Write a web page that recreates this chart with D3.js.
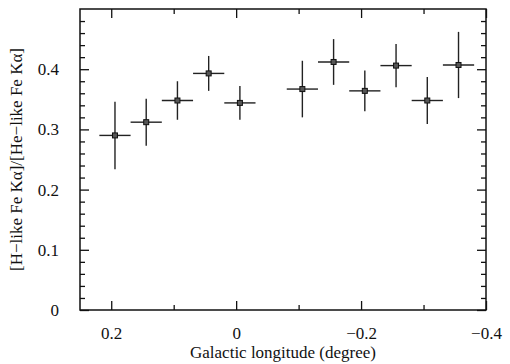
<!DOCTYPE html>
<html>
<head>
<meta charset="utf-8">
<script src="https://cdn.jsdelivr.net/npm/d3@7"></script>
</head>
<body style="margin:0;background:#fff">
<svg id="plot" width="510" height="364"></svg>
<script>
// Galactic longitude of each bin (degree)
const longitude = [0.194, 0.144, 0.094, 0.044, -0.006, -0.106, -0.156, -0.206, -0.256, -0.306, -0.356];
// half width of each longitude bin
const lonHalfWidth = [0.025, 0.025, 0.025, 0.025, 0.025, 0.025, 0.025, 0.025, 0.025, 0.025, 0.025];
// [H-like Fe Ka]/[He-like Fe Ka] ratio and its 1-sigma error
const ratio = [0.290, 0.312, 0.348, 0.393, 0.344, 0.367, 0.412, 0.364, 0.406, 0.348, 0.407];
const ratioErr = [0.056, 0.039, 0.032, 0.029, 0.028, 0.047, 0.038, 0.034, 0.036, 0.039, 0.055];

const xMajor = [0.2, 0, -0.2, -0.4];
const xMinor = [0.1, -0.1, -0.3];
const yMajor = [0, 0.1, 0.2, 0.3, 0.4];
const yMinor = [0.02, 0.04, 0.06, 0.08, 0.12, 0.14, 0.16, 0.18, 0.22, 0.24, 0.26, 0.28,
                0.32, 0.34, 0.36, 0.38, 0.42, 0.44, 0.46, 0.48];

const svgW = 510, svgH = 364;
const margin = {top: 9, right: 24, bottom: 54, left: 80};
const w = svgW - margin.left - margin.right;
const h = svgH - margin.top - margin.bottom;

const svg = d3.select("#plot");

const g = svg.append("g")
  .attr("transform", `translate(${margin.left},${margin.top})`);

const x = d3.scaleLinear().domain([0.25, -0.4]).range([0, w]);
const y = d3.scaleLinear().domain([0, 0.5]).range([h, 0]);

const fmt = d => d === 0 ? "0" : d3.format(".1f")(d);

// axes with inward ticks, mirrored on top and right
function styleAxis(sel) {
  sel.select(".domain").remove();
  sel.selectAll(".tick line").attr("stroke", "#111").attr("stroke-width", 1.3);
  sel.selectAll(".tick text").attr("fill", "#111")
    .attr("font-family", "Liberation Serif").attr("font-size", 17);
}

g.append("g").attr("transform", `translate(0,${h})`)
  .call(d3.axisBottom(x).tickValues(xMajor).tickFormat(fmt).tickSizeInner(-9).tickPadding(17))
  .call(styleAxis);
g.append("g").attr("transform", `translate(0,${h})`)
  .call(d3.axisBottom(x).tickValues(xMinor).tickFormat("").tickSizeInner(-5))
  .call(styleAxis);
g.append("g")
  .call(d3.axisTop(x).tickValues(xMajor).tickFormat("").tickSizeInner(-9))
  .call(styleAxis);
g.append("g")
  .call(d3.axisTop(x).tickValues(xMinor).tickFormat("").tickSizeInner(-5))
  .call(styleAxis);

g.append("g")
  .call(d3.axisLeft(y).tickValues(yMajor).tickFormat(fmt).tickSizeInner(-9).tickPadding(21))
  .call(styleAxis);
g.append("g")
  .call(d3.axisLeft(y).tickValues(yMinor).tickFormat("").tickSizeInner(-5))
  .call(styleAxis);
g.append("g").attr("transform", `translate(${w},0)`)
  .call(d3.axisRight(y).tickValues(yMajor).tickFormat("").tickSizeInner(-9))
  .call(styleAxis);
g.append("g").attr("transform", `translate(${w},0)`)
  .call(d3.axisRight(y).tickValues(yMinor).tickFormat("").tickSizeInner(-5))
  .call(styleAxis);

// frame
g.append("rect")
  .attr("width", w).attr("height", h)
  .attr("fill", "none").attr("stroke", "#111").attr("stroke-width", 1.5);

const data = longitude.map((l, i) => ({
  l, dl: lonHalfWidth[i], r: ratio[i], dr: ratioErr[i]
}));

const pts = g.selectAll(".pt").data(data).join("g").attr("class", "pt");
pts.append("line")
  .attr("x1", d => x(d.l + d.dl)).attr("x2", d => x(d.l - d.dl))
  .attr("y1", d => y(d.r)).attr("y2", d => y(d.r))
  .attr("stroke", "#222").attr("stroke-width", 1.4);
pts.append("line")
  .attr("x1", d => x(d.l)).attr("x2", d => x(d.l))
  .attr("y1", d => y(d.r + d.dr)).attr("y2", d => y(d.r - d.dr))
  .attr("stroke", "#222").attr("stroke-width", 1.4);
pts.append("rect")
  .attr("x", d => x(d.l) - 2.5).attr("y", d => y(d.r) - 2.5)
  .attr("width", 5).attr("height", 5)
  .attr("fill", "#555").attr("stroke", "#111").attr("stroke-width", 1);

// axis titles
svg.append("text")
  .attr("x", margin.left + w / 2)
  .attr("y", 358)
  .attr("text-anchor", "middle")
  .attr("fill", "#111")
  .attr("font-family", "Liberation Serif").attr("font-size", 17)
  .text("Galactic longitude (degree)");

svg.append("text")
  .attr("transform", `translate(22,${margin.top + h / 2}) rotate(-90)`)
  .attr("text-anchor", "middle")
  .attr("fill", "#111")
  .attr("font-family", "Liberation Serif").attr("font-size", 17)
  .text("[H\u2212like Fe K\u03b1]/[He\u2212like Fe K\u03b1]");
</script>
</body>
</html>
